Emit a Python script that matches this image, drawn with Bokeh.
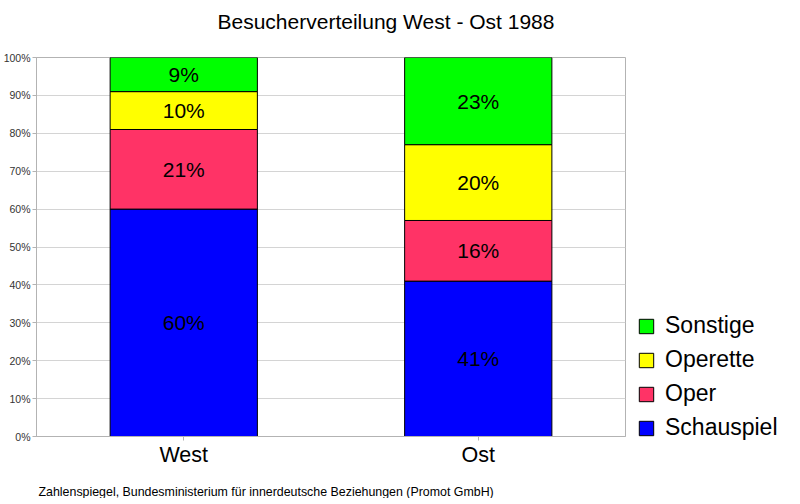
from bokeh.plotting import figure
from bokeh.models import (FactorRange, Range1d, Legend, LegendItem, Title,
                          ColumnDataSource, PrintfTickFormatter, FixedTicker)
from bokeh.core.properties import value
from bokeh.embed import file_html
from bokeh.resources import INLINE

# ---- data ----
categories = ["West", "Ost"]
series = ["Schauspiel", "Oper", "Operette", "Sonstige"]
schauspiel = [60, 41]
oper = [21, 16]
operette = [10, 20]
sonstige = [9, 23]
colors = ["#0000ff", "#ff3366", "#ffff00", "#00ff00"]
y_ticks = list(range(0, 101, 10))
title_text = "Besucherverteilung West - Ost 1988"
source_text = "Zahlenspiegel, Bundesministerium für innerdeutsche Beziehungen (Promot GmbH)"

FONT = "Liberation Sans"

data = {"cat": categories, "Schauspiel": schauspiel, "Oper": oper,
        "Operette": operette, "Sonstige": sonstige}
src = ColumnDataSource(data)

# bar label positions (centre of each segment)
lx, ly, lt = [], [], []
for i, c in enumerate(categories):
    bottom = 0
    for s in series:
        v = data[s][i]
        lx.append(c)
        ly.append(bottom + v / 2)
        lt.append(f"{v}%")
        bottom += v
lab_src = ColumnDataSource(dict(x=lx, y=ly, t=lt))

p = figure(x_range=FactorRange(*categories), y_range=Range1d(0, 100),
           frame_width=589, frame_height=379,
           output_backend="svg", toolbar_location=None,
           min_border_left=36, min_border_right=10, min_border_top=57,
           min_border_bottom=0)

rs = p.vbar_stack(series, x="cat", width=0.5, color=colors, line_color="black",
                  line_width=1, source=src)

p.text(x="x", y="y", text="t", source=lab_src, text_font=value(FONT),
       text_font_size="21px", text_align="center", text_baseline="middle",
       text_color="black")

# axes
p.yaxis.ticker = FixedTicker(ticks=y_ticks)
p.yaxis.formatter = PrintfTickFormatter(format="%d%%")
p.yaxis.major_label_text_font = FONT
p.yaxis.major_label_text_font_size = "10.5px"
p.yaxis.major_label_text_color = "#333333"
p.yaxis.major_label_standoff = 2
p.yaxis.major_tick_out = 4
p.yaxis.major_tick_in = 0
p.yaxis.minor_tick_line_color = None
p.yaxis.axis_line_color = "#b3b3b3"
p.yaxis.major_tick_line_color = "#b3b3b3"

p.xaxis.major_label_text_font = FONT
p.xaxis.major_label_text_font_size = "21.5px"
p.xaxis.major_label_text_color = "black"
p.xaxis.major_label_standoff = 2
p.xaxis.major_tick_out = 4
p.xaxis.major_tick_in = 0
p.xaxis.axis_line_color = "#b3b3b3"
p.xaxis.major_tick_line_color = "#b3b3b3"
# blank axis label used only as a spacer before the source note
p.xaxis.axis_label = " "
p.xaxis.axis_label_standoff = 9
p.xaxis.axis_label_text_font_size = "1px"

p.xgrid.grid_line_color = None
p.ygrid.grid_line_color = "#d4d4d4"
p.outline_line_color = "#b3b3b3"
p.background_fill_color = "white"

# legend
items = [LegendItem(label=s, renderers=[r]) for s, r in zip(series, rs)][::-1]
legend = Legend(items=items, location=(12, -5), padding=0, margin=0,
                glyph_width=18, glyph_height=18, label_standoff=10,
                label_text_font=FONT, label_text_font_size="23px",
                label_text_color="black",
                label_height=22, spacing=7, border_line_color=None,
                background_fill_alpha=0)
p.add_layout(legend, "right")

# title: a thin spacer next to the frame, then the title text
p.title = None
p.add_layout(Title(text=" ", text_font_size="1px", standoff=22), "above")
p.add_layout(Title(text=title_text, text_font=FONT, text_font_size="21px",
                   text_font_style="normal", text_color="black", align="left",
                   offset=181, standoff=0), "above")

# source note below the axis
p.add_layout(Title(text=source_text, text_font=FONT, text_font_size="12.4px",
                   text_font_style="normal", text_color="black", align="left",
                   offset=2, standoff=0), "below")

open("out.html", "w").write(file_html(p, INLINE))
